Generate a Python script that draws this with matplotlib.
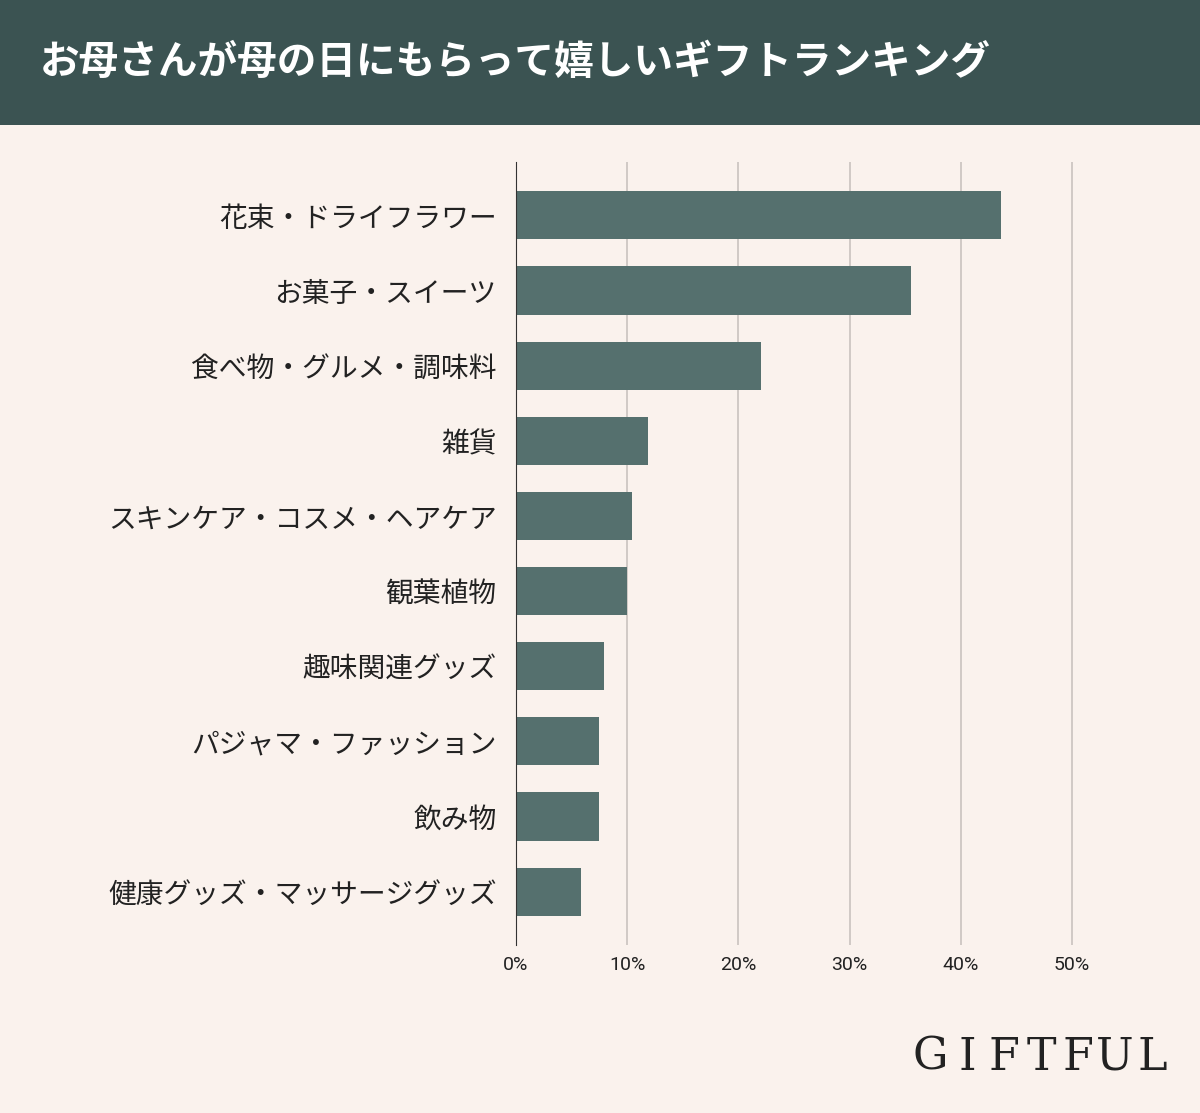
import matplotlib
matplotlib.use("Agg")
import matplotlib.pyplot as plt

categories = ["花束・ドライフラワー", "お菓子・スイーツ", "食べ物・グルメ・調味料", "雑貨",
              "スキンケア・コスメ・ヘアケア", "観葉植物", "趣味関連グッズ", "パジャマ・ファッション",
              "飲み物", "健康グッズ・マッサージグッズ"]
values = [43.6, 35.5, 22.0, 11.9, 10.4, 10.0, 7.9, 7.5, 7.5, 5.8]
ticks = [0, 10, 20, 30, 40, 50]
tick_labels = ["0%", "10%", "20%", "30%", "40%", "50%"]

BG = "#faf2ed"
fig = plt.figure(figsize=(12, 11.13), dpi=100, facecolor=BG)
plt.rcParams["font.family"] = "Noto Sans CJK JP"

# header
hdr = fig.add_axes([0, 1 - 125/1113, 1, 125/1113])
hdr.set_facecolor("#3b5352"); hdr.set_xticks([]); hdr.set_yticks([])
for s in hdr.spines.values(): s.set_visible(False)
fig.text(40/1200, 1 - 62/1113, "お母さんが母の日にもらって嬉しいギフトランキング",
         color="white", fontsize=28.5, fontweight="bold", va="center")

ax = fig.add_axes([516/1200, 1 - 945/1113, (1120-516)/1200, (945-162)/1113])
ax.set_facecolor(BG)
y = range(len(categories))
ax.barh(list(y), values, height=0.64, color="#55706e")
ax.set_ylim(9.71, -0.71)
ax.set_xlim(0, 54.3)
ax.set_yticks(list(y)); ax.set_yticklabels(categories, fontsize=20, color="#222")
ax.set_xticks(ticks); ax.set_xticklabels(tick_labels, fontsize=14, color="#222", fontfamily="Roboto")
ax.tick_params(length=0, pad=8)
ax.tick_params(axis="y", pad=14)
for t in ticks[1:]:
    ax.axvline(t, color="#c9c2bf", lw=1.2, zorder=0)
for k, s in ax.spines.items():
    s.set_visible(k == "left")
ax.spines["left"].set_color("#333")
ax.set_axisbelow(True)

logo = "GIFTFUL"
for i, ch in enumerate(logo):
    fig.text((930 + i * 37) / 1200, 1 - 1057/1113, ch, fontsize=32, color="#222",
             va="center", ha="center", fontfamily="DejaVu Serif",
             fontweight="light")
fig.savefig("out.png", facecolor=BG)
